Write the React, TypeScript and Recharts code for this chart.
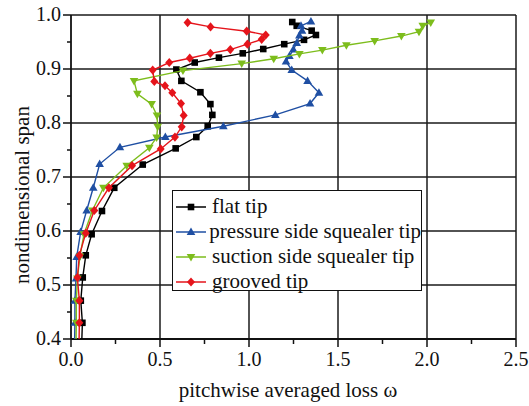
import { ScatterChart, Scatter, XAxis, YAxis, CartesianGrid, Legend } from 'recharts';

const xTicks = [0, 0.25, 0.5, 0.75, 1.0, 1.25, 1.5, 1.75, 2.0, 2.25, 2.5];
const yTicks = [0.4, 0.45, 0.5, 0.55, 0.6, 0.65, 0.7, 0.75, 0.8, 0.85, 0.9, 0.95, 1.0];
const xGrid = [0.5, 1.0, 1.5, 2.0, 2.5];
const yGrid = [0.5, 0.6, 0.7, 0.8, 0.9, 1.0];

const flatTip = [
  { x: 1.243, y: 0.987 }, { x: 1.268, y: 0.980 }, { x: 1.352, y: 0.971 }, { x: 1.376, y: 0.963 },
  { x: 1.309, y: 0.954 }, { x: 1.198, y: 0.946 }, { x: 1.080, y: 0.937 }, { x: 0.965, y: 0.929 },
  { x: 0.831, y: 0.921 }, { x: 0.695, y: 0.912 }, { x: 0.592, y: 0.899 }, { x: 0.620, y: 0.878 },
  { x: 0.727, y: 0.857 }, { x: 0.783, y: 0.835 }, { x: 0.794, y: 0.815 }, { x: 0.768, y: 0.794 },
  { x: 0.704, y: 0.774 }, { x: 0.588, y: 0.753 }, { x: 0.403, y: 0.723 }, { x: 0.243, y: 0.680 },
  { x: 0.174, y: 0.637 }, { x: 0.116, y: 0.594 }, { x: 0.083, y: 0.555 }, { x: 0.066, y: 0.514 },
  { x: 0.055, y: 0.471 }, { x: 0.064, y: 0.430 }, { x: 0.060, y: 0.390 },
];

const pressureSide = [
  { x: 1.348, y: 0.988 }, { x: 1.292, y: 0.980 }, { x: 1.298, y: 0.971 }, { x: 1.283, y: 0.962 },
  { x: 1.268, y: 0.948 }, { x: 1.249, y: 0.936 }, { x: 1.227, y: 0.924 }, { x: 1.208, y: 0.914 },
  { x: 1.240, y: 0.898 }, { x: 1.329, y: 0.878 }, { x: 1.393, y: 0.856 }, { x: 1.343, y: 0.836 },
  { x: 1.148, y: 0.815 }, { x: 0.856, y: 0.794 }, { x: 0.530, y: 0.774 }, { x: 0.275, y: 0.755 },
  { x: 0.161, y: 0.724 }, { x: 0.125, y: 0.680 }, { x: 0.088, y: 0.638 }, { x: 0.054, y: 0.598 },
  { x: 0.032, y: 0.552 }, { x: 0.028, y: 0.512 }, { x: 0.022, y: 0.471 }, { x: 0.022, y: 0.430 },
  { x: 0.020, y: 0.390 },
];

const suctionSide = [
  { x: 2.021, y: 0.986 }, { x: 1.976, y: 0.980 }, { x: 1.955, y: 0.969 }, { x: 1.856, y: 0.961 },
  { x: 1.706, y: 0.952 }, { x: 1.547, y: 0.944 }, { x: 1.412, y: 0.935 }, { x: 1.283, y: 0.928 },
  { x: 1.139, y: 0.919 }, { x: 0.959, y: 0.910 }, { x: 0.629, y: 0.897 }, { x: 0.354, y: 0.878 },
  { x: 0.373, y: 0.854 }, { x: 0.453, y: 0.835 }, { x: 0.483, y: 0.814 }, { x: 0.487, y: 0.793 },
  { x: 0.481, y: 0.773 }, { x: 0.440, y: 0.754 }, { x: 0.313, y: 0.721 }, { x: 0.182, y: 0.680 },
  { x: 0.120, y: 0.638 }, { x: 0.073, y: 0.594 }, { x: 0.050, y: 0.553 }, { x: 0.036, y: 0.512 },
  { x: 0.030, y: 0.471 }, { x: 0.030, y: 0.430 }, { x: 0.028, y: 0.390 },
];

const groovedTip = [
  { x: 0.655, y: 0.986 }, { x: 0.784, y: 0.978 }, { x: 0.987, y: 0.970 }, { x: 1.094, y: 0.963 },
  { x: 1.071, y: 0.955 }, { x: 0.991, y: 0.946 }, { x: 0.895, y: 0.936 }, { x: 0.783, y: 0.929 },
  { x: 0.667, y: 0.920 }, { x: 0.552, y: 0.912 }, { x: 0.459, y: 0.898 }, { x: 0.468, y: 0.877 },
  { x: 0.528, y: 0.869 }, { x: 0.569, y: 0.856 }, { x: 0.618, y: 0.836 }, { x: 0.633, y: 0.814 },
  { x: 0.622, y: 0.793 }, { x: 0.584, y: 0.774 }, { x: 0.504, y: 0.752 }, { x: 0.343, y: 0.721 },
  { x: 0.213, y: 0.680 }, { x: 0.131, y: 0.638 }, { x: 0.083, y: 0.596 }, { x: 0.047, y: 0.555 },
  { x: 0.036, y: 0.514 }, { x: 0.047, y: 0.471 }, { x: 0.047, y: 0.430 }, { x: 0.045, y: 0.390 },
];

const SERIF = 'Liberation Serif, Tinos, DejaVu Serif, serif';

type Kind = 'square' | 'up' | 'down' | 'diamond';

const series: { name: string; color: string; kind: Kind; data: { x: number; y: number }[] }[] = [
  { name: 'flat tip', color: '#000000', kind: 'square', data: flatTip },
  { name: 'pressure side squealer tip', color: '#1f4fa3', kind: 'up', data: pressureSide },
  { name: 'suction side squealer tip', color: '#7dbd1c', kind: 'down', data: suctionSide },
  { name: 'grooved tip', color: '#e5141b', kind: 'diamond', data: groovedTip },
];

function markerPath(kind: Kind, cx: number, cy: number) {
  if (kind === 'square') return `M${cx - 3.3},${cy - 3.3}h6.6v6.6h-6.6Z`;
  if (kind === 'up') return `M${cx},${cy - 4.5}L${cx + 4.3},${cy + 3}L${cx - 4.3},${cy + 3}Z`;
  if (kind === 'down') return `M${cx},${cy + 4.5}L${cx + 4.3},${cy - 3}L${cx - 4.3},${cy - 3}Z`;
  return `M${cx},${cy - 4.6}L${cx + 4},${cy}L${cx},${cy + 4.6}L${cx - 4},${cy}Z`;
}

const makeShape = (kind: Kind, color: string) => (p: any) => (
  <path d={markerPath(kind, p.cx, p.cy)} fill={color} stroke="none" />
);

const isMajor = (v: number, step: number) => Math.abs(v / step - Math.round(v / step)) < 1e-6;

const XTick = (p: any) => {
  const v = p.payload.value;
  const major = isMajor(v, 0.5);
  return (
    <g>
      <line x1={p.x} y1={p.y} x2={p.x} y2={p.y + (major ? 8 : 5)} stroke="#111" strokeWidth={1.5} />
      {major && (
        <text x={p.x} y={p.y + 27} textAnchor="middle" style={{ fontFamily: SERIF }} fontSize={20} fill="#111">
          {v.toFixed(1)}
        </text>
      )}
    </g>
  );
};

const YTick = (p: any) => {
  const v = p.payload.value;
  const major = isMajor(v, 0.1);
  return (
    <g>
      <line x1={p.x} y1={p.y} x2={p.x - (major ? 8 : 4)} y2={p.y} stroke="#111" strokeWidth={1.5} />
      {major && (
        <text x={p.x - 10} y={p.y + 6} textAnchor="end" style={{ fontFamily: SERIF }} fontSize={20} fill="#111">
          {v.toFixed(1)}
        </text>
      )}
    </g>
  );
};

const renderLegend = () => (
  <div
    style={{
      width: 250,
      height: 101,
      boxSizing: 'border-box',
      border: '1.5px solid #111',
      background: '#fff',
      paddingTop: 3,
      fontFamily: SERIF,
      fontSize: 21,
      color: '#111',
      whiteSpace: 'nowrap',
    }}
  >
    {series.map((s) => (
      <div key={s.name} style={{ height: 25, display: 'flex', alignItems: 'center' }}>
        <svg width={34} height={12} style={{ marginLeft: 2, marginRight: 3 }}>
          <line x1={1} y1={6} x2={31} y2={6} stroke={s.color} strokeWidth={1.5} />
          <path d={markerPath(s.kind, 16, 6)} fill={s.color} />
        </svg>
        <span style={{ lineHeight: '25px' }}>{s.name}</span>
      </div>
    ))}
  </div>
);

export default function App() {
  return (
    <div style={{ position: 'absolute', left: 0, top: 0, background: '#fff' }}>
      <ScatterChart width={529} height={406} margin={{ top: 15, right: 13, bottom: 0, left: 0 }}>
        <CartesianGrid
          horizontalValues={yGrid}
          verticalValues={xGrid}
          stroke="#1a1a1a"
          strokeWidth={1.5}
        />
        <XAxis
          type="number"
          dataKey="x"
          domain={[0, 2.5]}
          ticks={xTicks}
          interval={0}
          height={67}
          tickSize={0}
          tickMargin={0}
          tick={<XTick />}
          axisLine={{ stroke: '#111', strokeWidth: 1.8 }}
          allowDataOverflow
          label={{
            content: () => (
              <text x={288} y={397} textAnchor="middle" style={{ fontFamily: SERIF }} fontSize={21} fill="#111">
                pitchwise averaged loss ω
              </text>
            ),
          }}
        />
        <YAxis
          type="number"
          dataKey="y"
          domain={[0.4, 1.0]}
          ticks={yTicks}
          interval={0}
          width={71}
          tickSize={0}
          tickMargin={0}
          tick={<YTick />}
          axisLine={{ stroke: '#111', strokeWidth: 1.8 }}
          allowDataOverflow
          label={{
            content: () => (
              <text
                x={29}
                y={195}
                transform="rotate(-90 29 195)"
                textAnchor="middle"
                style={{ fontFamily: SERIF }}
                fontSize={21}
                fill="#111"
              >
                nondimensional span
              </text>
            ),
          }}
        />
        {series.map((s) => (
          <Scatter
            key={s.name}
            name={s.name}
            data={s.data}
            fill={s.color}
            line={{ stroke: s.color, strokeWidth: 1.4 }}
            lineType="joint"
            shape={makeShape(s.kind, s.color)}
            isAnimationActive={false}
          />
        ))}
        <Legend
          layout="vertical"
          align="center"
          verticalAlign="middle"
          content={renderLegend}
          wrapperStyle={{ left: 172, top: 190, width: 250 }}
        />
      </ScatterChart>
    </div>
  );
}
